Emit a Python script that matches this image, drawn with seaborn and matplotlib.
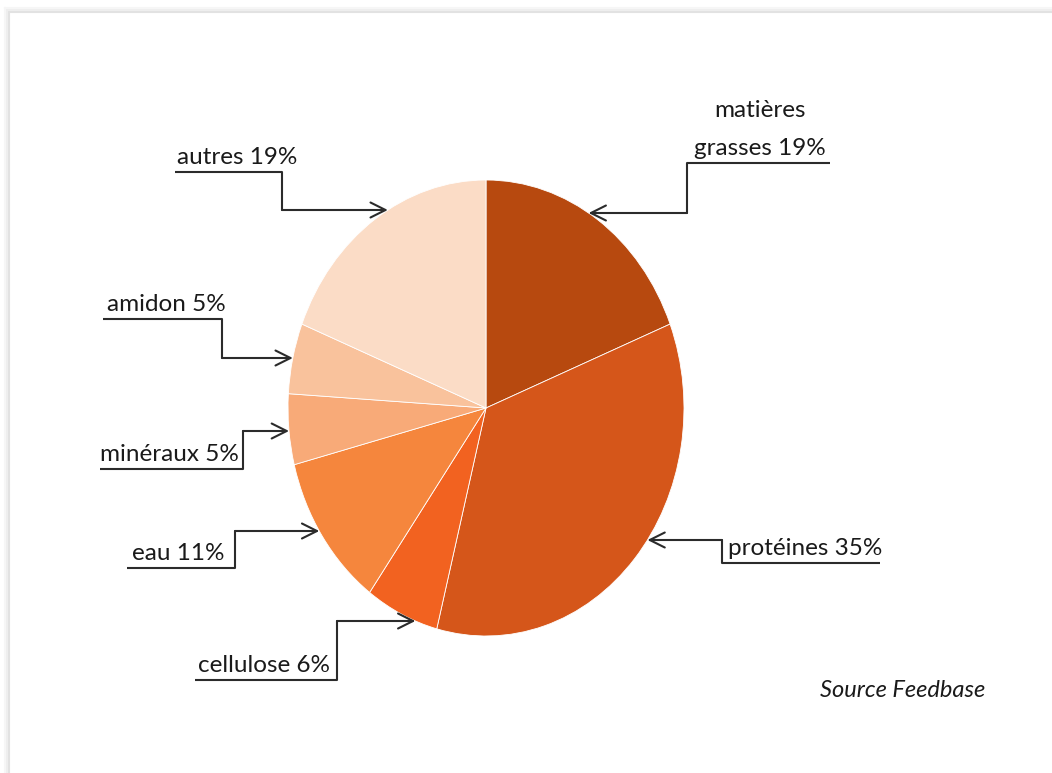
import numpy as np
import matplotlib
matplotlib.use("Agg")
import matplotlib.pyplot as plt
import seaborn as sns

# composition data (clockwise from top)
names = ["matières grasses", "protéines", "cellulose", "eau", "minéraux", "amidon", "autres"]
values = [19, 35, 6, 11, 5, 5, 19]
colors = ["#B7490F", "#D5561A", "#F26220", "#F5863D", "#F8AA78", "#F9C29C", "#FBDCC6"]
source = "Source Feedbase"

# leader layout in pixels: text x, align, underline x0, x1, underline y, elbow x, arrow y, side
layout = [
    (760, "center", 687, 830, 163, 687, 213, 1),
    (728, "left", 722, 880, 563, 722, 540, 1),
    (198, "left", 195, 337, 680, 337, 621, -1),
    (132, "left", 127, 235, 568, 235, 531, -1),
    (100, "left", 100, 243, 469, 243, 431, -1),
    (107, "left", 103, 222, 319, 222, 358, -1),
    (177, "left", 175, 282, 172, 282, 210, -1),
]

W, H = 1052, 773
cx, cy, rx, ry = 486, 408, 198, 228

sns.set_theme(style="white")
plt.rcParams["font.family"] = ["Lato", "DejaVu Sans"]

fig = plt.figure(figsize=(W / 100, H / 100), dpi=100)
fig.patch.set_facecolor("white")

# pie axes sized to the (elliptical) pie bounding box
ax = fig.add_axes([(cx - rx) / W, (H - cy - ry) / H, 2 * rx / W, 2 * ry / H])
ax.pie(values, colors=sns.color_palette(colors), startangle=90, counterclock=False,
       wedgeprops=dict(edgecolor="white", linewidth=0.6), radius=1)
ax.set_aspect("auto")
ax.set_xlim(-1, 1)
ax.set_ylim(-1, 1)
ax.axis("off")

# overlay in pixel coordinates for labels, leaders and card frame
ov = fig.add_axes([0, 0, 1, 1], zorder=5)
ov.set_xlim(0, W)
ov.set_ylim(H, 0)
ov.axis("off")
ov.patch.set_alpha(0)

# card edge with soft shadow
for off, c in [(0, "#e2e2e2"), (2, "#eeeeee"), (4, "#f6f6f6")]:
    ov.plot([9 - off, 9 - off], [12 - off, H], color=c, lw=1.5)
    ov.plot([9 - off, W], [12 - off, 12 - off], color=c, lw=1.5)

line_c = "#2b2b2b"
for name, v, (tx, ha, x0, x1, uy, ex, ay, side) in zip(names, values, layout):
    label = f"{name} {v}%"
    if name == "matières grasses":
        ov.text(tx, uy - 46, "matières", ha="center", va="baseline", fontsize=17.5, color="#1a1a1a")
        ov.text(tx, uy - 8, f"grasses {v}%", ha="center", va="baseline", fontsize=17.5, color="#1a1a1a")
    else:
        ov.text(tx, uy - 8, label, ha=ha, va="baseline", fontsize=17.5, color="#1a1a1a")
    # point on the ellipse edge at the arrow height
    yn = (ay - cy) / ry
    tip_x = cx + side * rx * np.sqrt(max(0.0, 1 - yn ** 2))
    ov.plot([x0, x1], [uy, uy], color=line_c, lw=1.5, solid_capstyle="butt")
    ov.plot([ex, ex], [uy, ay], color=line_c, lw=1.5)
    ov.annotate("", xy=(tip_x, ay), xytext=(ex, ay),
                arrowprops=dict(arrowstyle="->,head_length=0.9,head_width=0.45",
                                color=line_c, lw=1.5, shrinkA=0, shrinkB=0))

ov.text(985, 697, source, ha="right", va="baseline", fontsize=17, style="italic", color="#1a1a1a")

fig.savefig("out.png", dpi=100)
